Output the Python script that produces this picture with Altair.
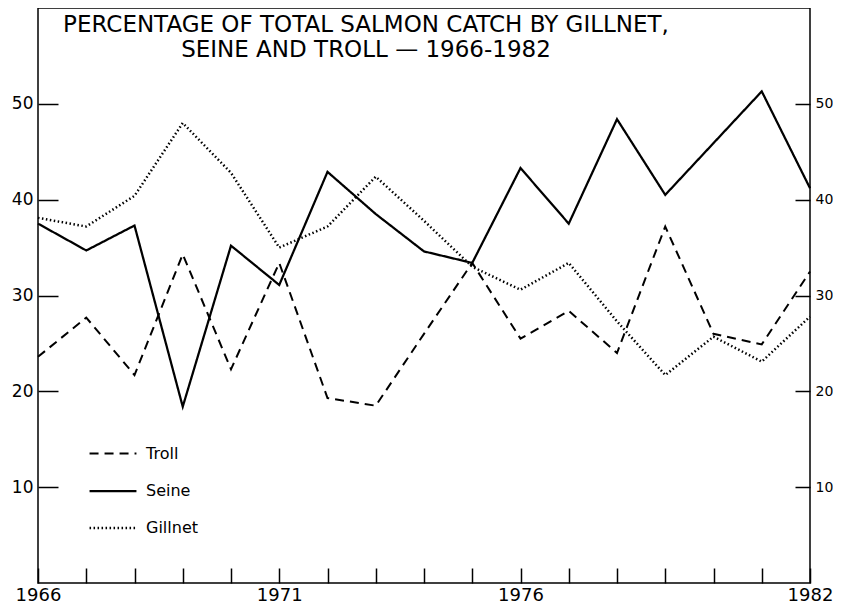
import altair as alt
import pandas as pd

years = list(range(1966, 1983))
troll = [23.6, 27.7, 21.7, 34.3, 22.3, 33.4, 19.3, 18.5, 26.0, 33.4, 25.5, 28.4, 24.0, 37.2, 26.0, 24.9, 32.5]
seine = [37.5, 34.7, 37.3, 18.4, 35.2, 31.1, 42.9, 38.5, 34.6, 33.4, 43.3, 37.5, 48.4, 40.5, 45.9, 51.3, 41.2]
gillnet = [38.1, 37.2, 40.4, 48.0, 42.8, 35.0, 37.2, 42.4, 37.8, 33.0, 30.6, 33.4, 27.3, 21.7, 25.7, 23.1, 27.8]
series_names = ["Troll", "Seine", "Gillnet"]
labelled_years = [1966, 1971, 1976, 1982]
y_ticks = [10, 20, 30, 40, 50]
title_lines = ["PERCENTAGE OF TOTAL SALMON CATCH BY GILLNET,", "SEINE AND TROLL \u2014 1966-1982"]

rows = []
for name, vals in zip(series_names, [troll, seine, gillnet]):
    for yr, v in zip(years, vals):
        rows.append({"year": yr, "pct": v, "gear": name})
df = pd.DataFrame(rows)

FONT = "DejaVu Sans"
label_test = " || ".join(f"datum.value == {y}" for y in labelled_years)

x_enc = alt.X(
    "year:Q",
    scale=alt.Scale(domain=[1966, 1982], nice=False, zero=False),
    axis=alt.Axis(values=years, title=None, tickSize=15, offset=-15, domain=False,
                  format="d", labelExpr=f"({label_test}) ? datum.label : ''",
                  labelFlush=False, labelOverlap=False, labelPadding=3,
                  labelFontSize=18, labelFont=FONT, grid=False),
)

dash_scale = alt.Scale(domain=series_names, range=[[9, 6], [1, 0], [1.5, 2.5]])
width_scale = alt.Scale(domain=series_names, range=[2, 2.5, 1.5])
legend = alt.Legend(orient="none", legendX=50, legendY=421, title=None,
                    symbolType="stroke", symbolSize=2200, symbolStrokeColor="black",
                    labelFontSize=16, labelFont=FONT, labelOffset=8, rowPadding=4)

lines = alt.Chart(df).mark_line(color="black").encode(
    x=x_enc,
    y=alt.Y("pct:Q", scale=alt.Scale(domain=[0, 60], nice=False),
            axis=alt.Axis(values=y_ticks, title=None, tickSize=20, offset=-20, domain=False,
                          labelPadding=5, labelFontSize=17, labelFont=FONT, grid=False)),
    strokeDash=alt.StrokeDash("gear:N", scale=dash_scale, legend=legend),
    strokeWidth=alt.StrokeWidth("gear:N", scale=width_scale, legend=legend),
    detail="gear:N",
)

right = alt.Chart(df).mark_line(opacity=0).encode(
    x=x_enc,
    y=alt.Y("pct:Q", scale=alt.Scale(domain=[0, 60], nice=False),
            axis=alt.Axis(orient="right", values=y_ticks, title=None, tickSize=15, offset=-15,
                          domain=False, labelPadding=5, labelFontSize=14, labelFont=FONT, grid=False)),
    detail="gear:N",
)

chart = alt.layer(lines, right).resolve_scale(y="independent").properties(
    width=772, height=575,
    autosize=alt.AutoSizeParams(type="none"),
    padding={"left": 30, "top": 0, "right": 23, "bottom": 21},
    title=alt.TitleParams(text=title_lines, anchor="middle", dx=-58, dy=58, fontSize=23,
                          font=FONT, fontWeight="normal", lineHeight=25, color="black"),
).configure_view(stroke="black", strokeWidth=1.5).configure_axis(
    tickColor="black", tickWidth=1.5, labelColor="black"
)

chart.save("out.html", embed_options={"renderer": "svg", "actions": False})
